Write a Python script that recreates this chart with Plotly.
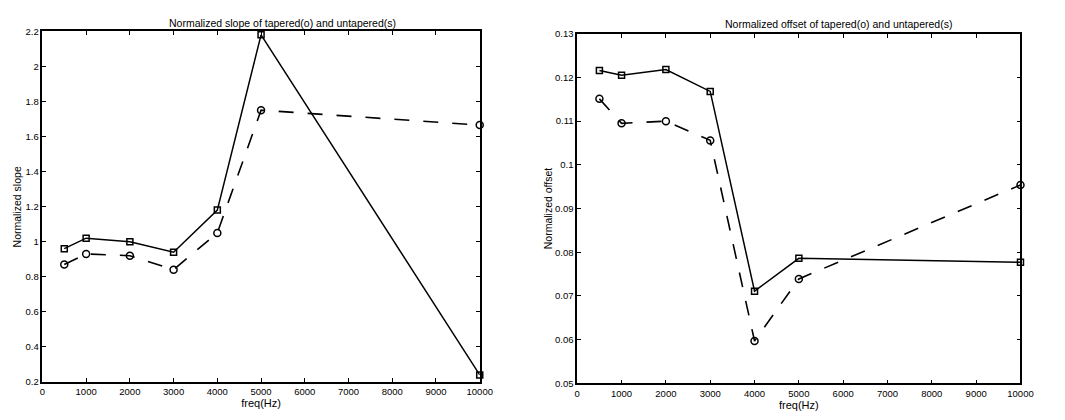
import plotly.graph_objects as go

freq = [500, 1000, 2000, 3000, 4000, 5000, 10000]
slope_untapered = [0.96, 1.02, 1.00, 0.94, 1.18, 2.18, 0.24]
slope_tapered = [0.87, 0.93, 0.92, 0.84, 1.05, 1.75, 1.665]
offset_untapered = [0.1216, 0.1205, 0.1218, 0.1168, 0.0711, 0.0786, 0.0777]
offset_tapered = [0.1151, 0.1095, 0.1100, 0.1056, 0.0597, 0.0739, 0.0954]

x_ticks = [0, 1000, 2000, 3000, 4000, 5000, 6000, 7000, 8000, 9000, 10000]
x_ticktext = [str(v) for v in x_ticks]
slope_ticks = [0.2, 0.4, 0.6, 0.8, 1.0, 1.2, 1.4, 1.6, 1.8, 2.0, 2.2]
slope_ticktext = ["0.2", "0.4", "0.6", "0.8", "1", "1.2", "1.4", "1.6", "1.8", "2", "2.2"]
offset_ticks = [0.05, 0.06, 0.07, 0.08, 0.09, 0.10, 0.11, 0.12, 0.13]
offset_ticktext = ["0.05", "0.06", "0.07", "0.08", "0.09", "0.1", "0.11", "0.12", "0.13"]

W, H = 1065, 420
FONT = "Liberation Sans, Arial, sans-serif"

fig = go.Figure()

solid = dict(color="black", width=1.5)
dashed = dict(color="black", width=1.6, dash="15px,14px")
sq = dict(symbol="square-open", size=6, color="black", line=dict(width=1.5, color="black"))
ci = dict(symbol="circle-open", size=7, color="black", line=dict(width=1.5, color="black"))

fig.add_trace(go.Scatter(x=freq, y=slope_untapered, mode="lines+markers", line=solid, marker=sq, xaxis="x", yaxis="y", cliponaxis=False))
fig.add_trace(go.Scatter(x=freq, y=slope_tapered, mode="lines+markers", line=dashed, marker=ci, xaxis="x", yaxis="y", cliponaxis=False))
fig.add_trace(go.Scatter(x=freq, y=offset_untapered, mode="lines+markers", line=solid, marker=sq, xaxis="x2", yaxis="y2", cliponaxis=False))
fig.add_trace(go.Scatter(x=freq, y=offset_tapered, mode="lines+markers", line=dashed, marker=ci, xaxis="x2", yaxis="y2", cliponaxis=False))

def xax(domain, anchor):
    return dict(domain=domain, anchor=anchor, range=[0, 10000], tickvals=x_ticks, ticktext=x_ticktext,
                ticks="inside", ticklen=4, tickwidth=1.2, tickcolor="black", mirror="ticks",
                showline=True, linecolor="black", linewidth=1.6, showgrid=False, zeroline=False,
                tickfont=dict(size=9.5, color="black", family=FONT),
                title=dict(text="freq(Hz)", font=dict(size=11, color="black", family=FONT), standoff=1))

def yax(domain, anchor, rng, tv, tt):
    return dict(domain=domain, anchor=anchor, range=rng, tickvals=tv, ticktext=tt,
                ticks="inside", ticklen=4, tickwidth=1.2, tickcolor="black", mirror="ticks",
                showline=True, linecolor="black", linewidth=1.6, showgrid=False, zeroline=False,
                tickfont=dict(size=9.5, color="black", family=FONT))

fig.update_layout(
    width=W, height=H, margin=dict(l=0, r=0, t=0, b=0),
    paper_bgcolor="white", plot_bgcolor="white", showlegend=False,
    font=dict(family=FONT, color="black"),
    xaxis=xax([40 / W, 484 / W], "y"),
    yaxis=yax([1 - 386 / H, 1 - 26 / H], "x", [0.2, 2.2], slope_ticks, slope_ticktext),
    xaxis2=xax([583 / W, 1033 / W], "y2"),
    yaxis2=yax([1 - 387.5 / H, 1 - 28.5 / H], "x2", [0.05, 0.13], offset_ticks, offset_ticktext),
)

annots = [
    dict(text="Normalized slope of tapered(o) and untapered(s)", x=284 / W, y=1 - 17 / H),
    dict(text="Normalized offset of tapered(o) and untapered(s)", x=848 / W, y=1 - 18 / H),
]
for a in annots:
    fig.add_annotation(xref="paper", yref="paper", x=a["x"], y=a["y"], text=a["text"], showarrow=False,
                       xanchor="center", yanchor="middle", font=dict(size=10.5, color="black", family=FONT))
fig.add_annotation(xref="paper", yref="paper", x=14 / W, y=1 - 206 / H, text="Normalized slope", textangle=-90,
                   showarrow=False, xanchor="center", yanchor="middle", font=dict(size=10.5, color="black", family=FONT))
fig.add_annotation(xref="paper", yref="paper", x=553 / W, y=1 - 208 / H, text="Normalized offset", textangle=-90,
                   showarrow=False, xanchor="center", yanchor="middle", font=dict(size=10.5, color="black", family=FONT))

fig.write_html("out.html")
